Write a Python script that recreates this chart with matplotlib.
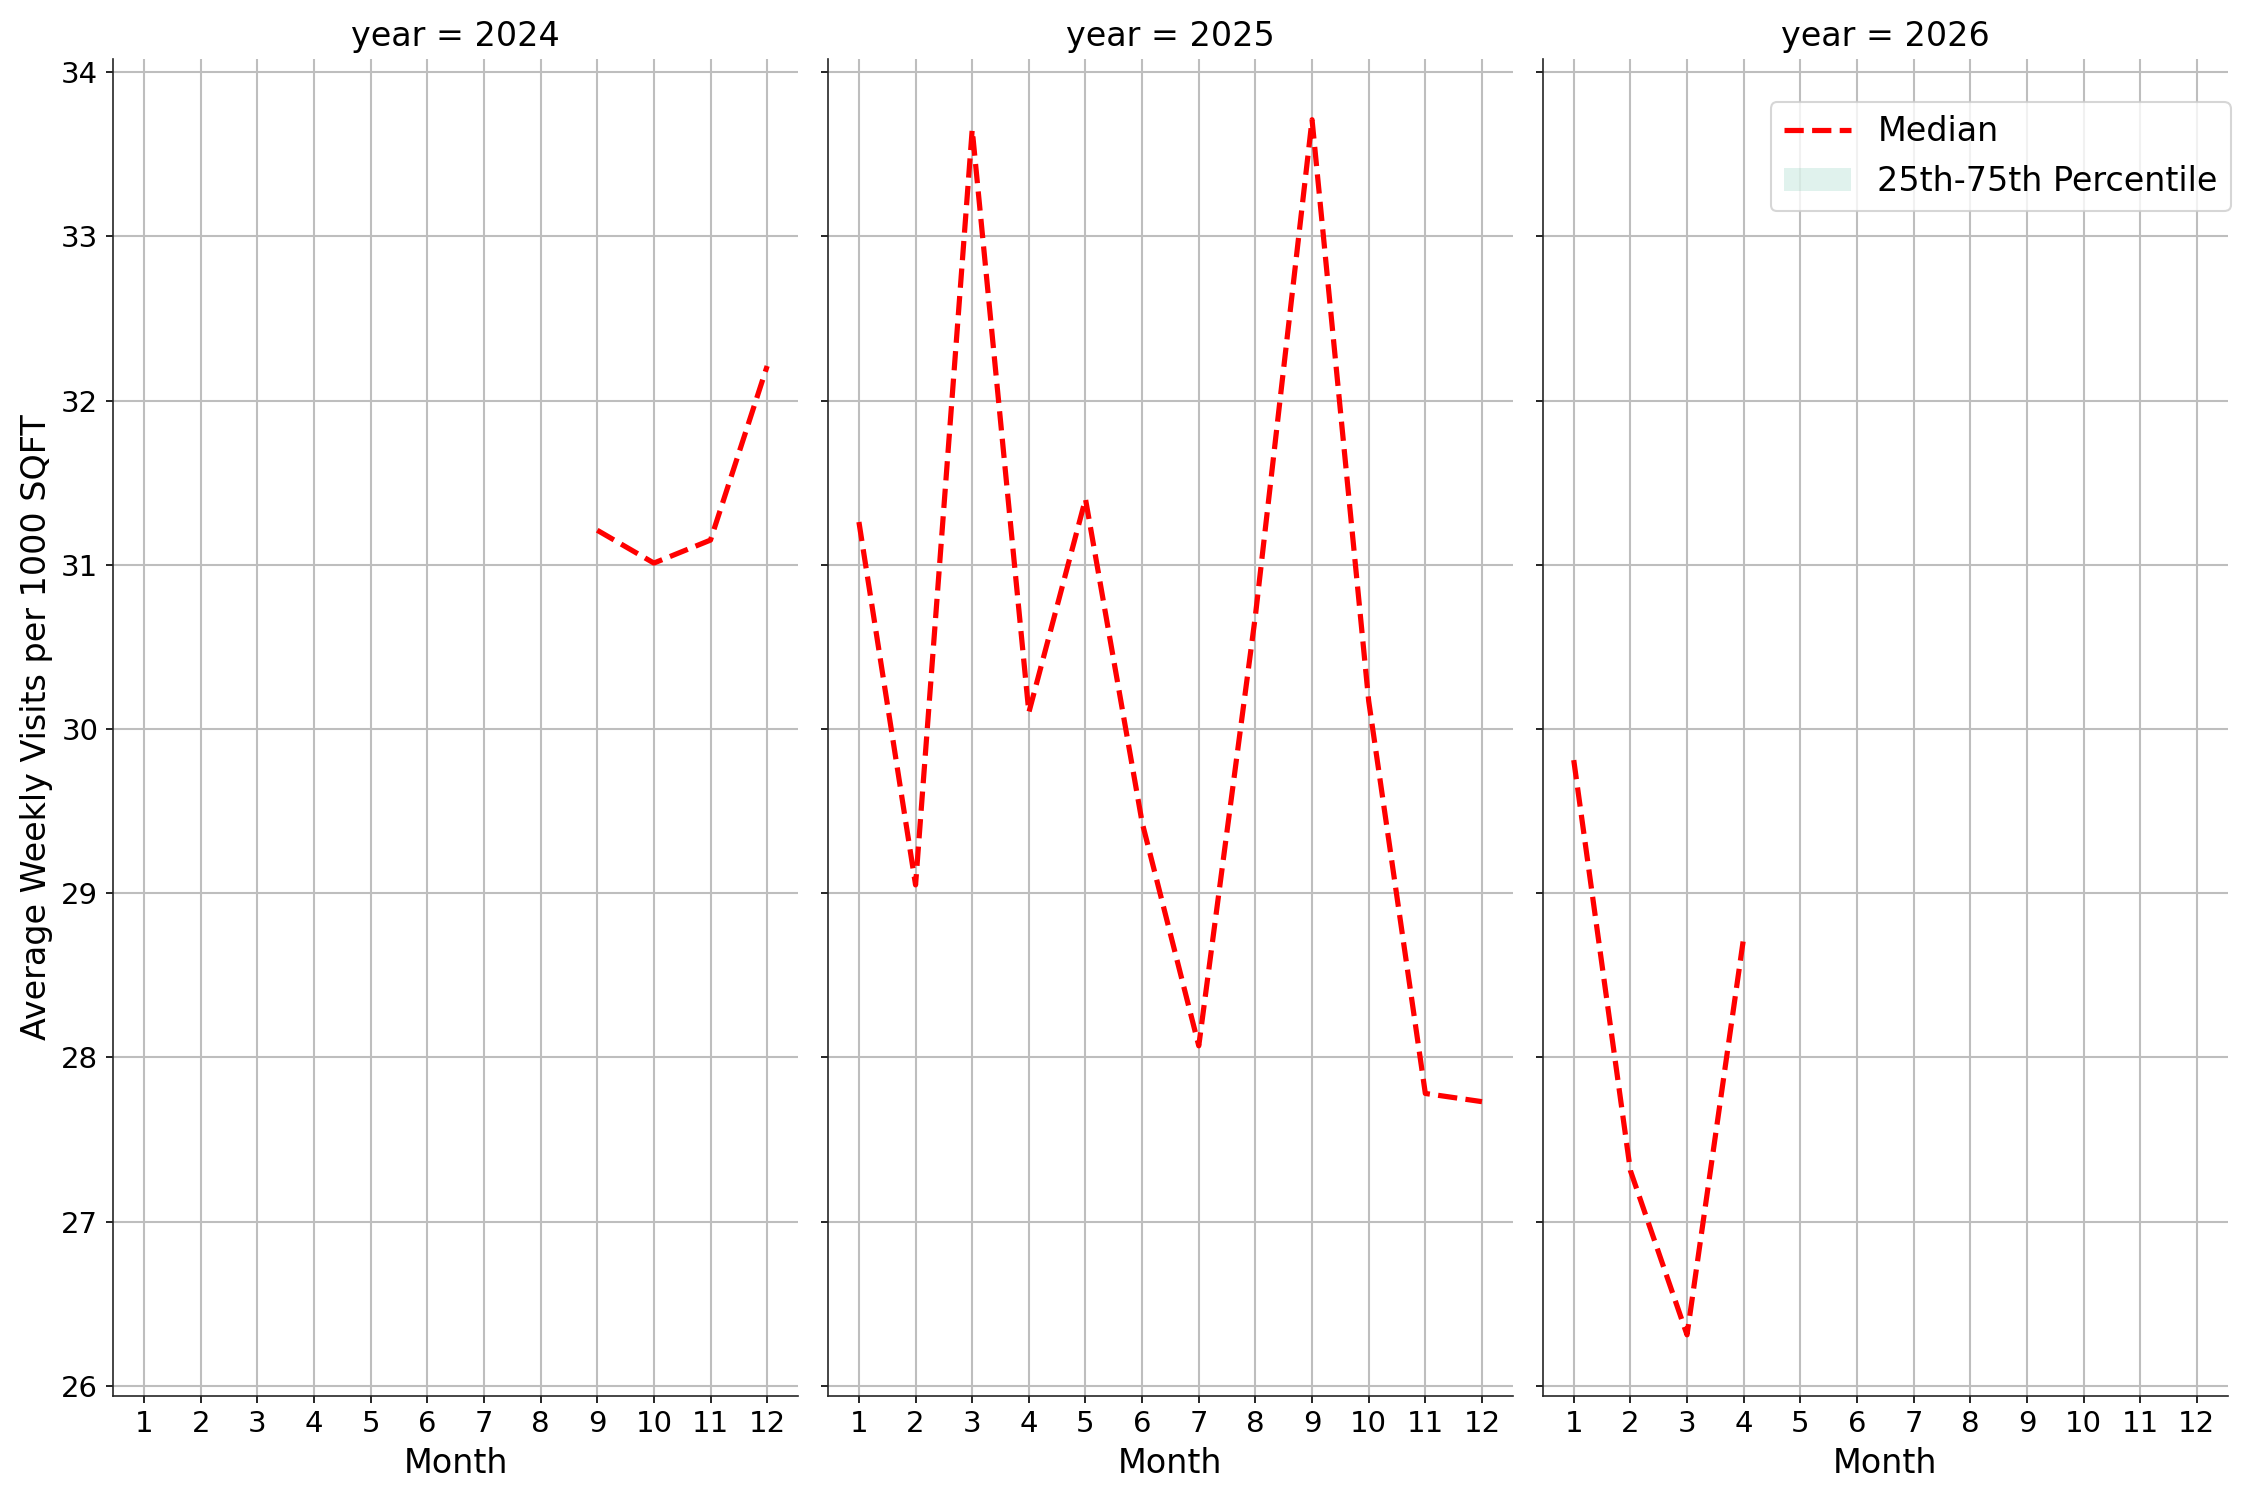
import numpy as np
import matplotlib.pyplot as plt

# Mediany tygodniowych wizyt na 1000 SQFT, wg roku i miesiąca
years = [2024, 2025, 2026]
months_2024 = [9, 10, 11, 12]
median_2024 = [31.21, 31.01, 31.15, 32.21]
months_2025 = [1, 2, 3, 4, 5, 6, 7, 8, 9, 10, 11, 12]
median_2025 = [31.26, 29.05, 33.65, 30.10, 31.40, 29.43, 28.07, 30.69, 33.71, 30.17, 27.78, 27.73]
months_2026 = [1, 2, 3, 4]
median_2026 = [29.81, 27.31, 26.31, 28.73]

# percentyle - pasmo niewidoczne na wykresie (jedna obserwacja na miesiąc)
p25_2024, p75_2024 = median_2024, median_2024
p25_2025, p75_2025 = median_2025, median_2025
p25_2026, p75_2026 = median_2026, median_2026

series = [
    (months_2024, median_2024, p25_2024, p75_2024),
    (months_2025, median_2025, p25_2025, p75_2025),
    (months_2026, median_2026, p25_2026, p75_2026),
]
month_ticks = list(range(1, 13))

fig, axes = plt.subplots(1, 3, figsize=(15, 10), dpi=150, sharex=True, sharey=True)
fig.subplots_adjust(left=0.0502, right=0.9902, bottom=0.0696, top=0.9607, wspace=0.043)

for ax, year, (m, med, lo, hi) in zip(axes, years, series):
    ax.fill_between(m, lo, hi, color='#66c2a5', alpha=0.2, linewidth=0,
                    label='25th-75th Percentile')
    ax.plot(m, med, color='red', linestyle='--', linewidth=2.5, label='Median')
    ax.set_title(f'year = {year}', fontsize=16)
    ax.set_xlabel('Month', fontsize=16)
    ax.set_xticks(month_ticks)
    ax.tick_params(labelsize=14)
    ax.grid(True, color='#bebebe', linewidth=1.0)
    ax.set_axisbelow(True)
    for side in ['top', 'right']:
        ax.spines[side].set_visible(False)
    for side in ['left', 'bottom']:
        ax.spines[side].set_color('#262626')

axes[0].set_ylabel('Average Weekly Visits per 1000 SQFT', fontsize=16)

handles, labels = axes[2].get_legend_handles_labels()
axes[2].legend(handles[::-1], labels[::-1], loc='upper right',
               bbox_to_anchor=(1.0044, 0.9678), borderaxespad=0, fontsize=16)

plt.savefig('out.png')
